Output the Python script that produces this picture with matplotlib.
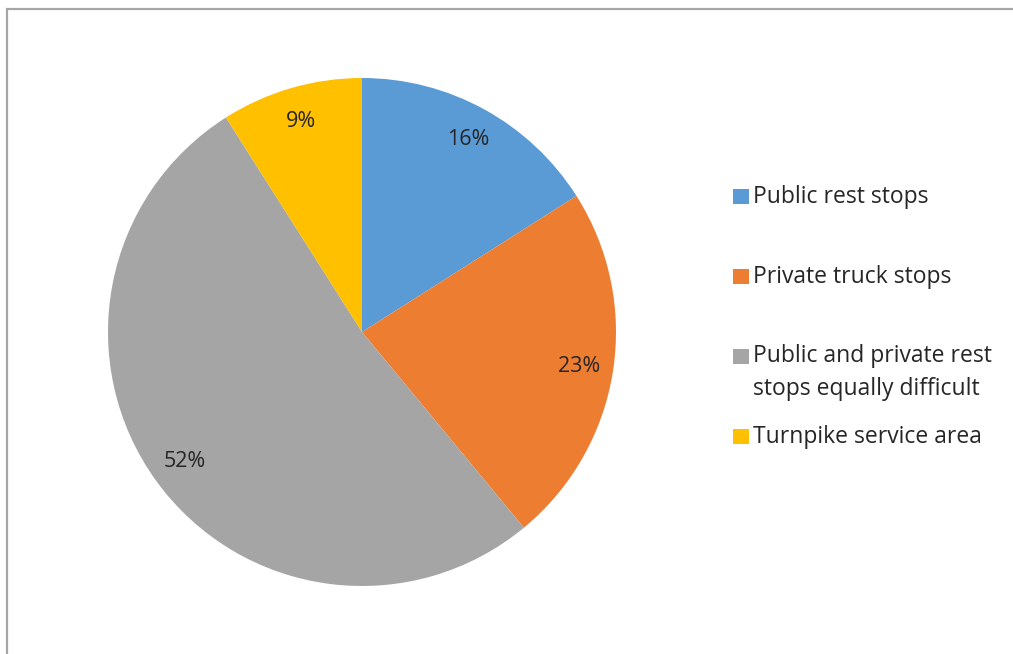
import matplotlib
matplotlib.use("Agg")
import matplotlib.pyplot as plt
from matplotlib.patches import Rectangle

categories = ["Public rest stops", "Private truck stops",
              "Public and private rest\nstops equally difficult",
              "Turnpike service area"]
shares = [16, 23, 52, 9]
colors = ["#5B9BD5", "#ED7D31", "#A5A5A5", "#FFC000"]

W, H = 1013, 654
fig = plt.figure(figsize=(W / 100, H / 100), dpi=100)
plt.rcParams["font.family"] = ["Open Sans", "DejaVu Sans"]

# frame around the chart area (runs off the right and bottom)
fig.patches.append(Rectangle((6.5 / W, -0.1), 1.2, (H - 8.5) / H + 0.1,
                             transform=fig.transFigure, fill=False,
                             edgecolor="#a6a6a6", linewidth=1.6))

cx, cy, r = 362, 332, 254
ax = fig.add_axes([(cx - r) / W, (H - cy - r) / H, 2 * r / W, 2 * r / H])
ax.pie(shares, colors=colors, startangle=90, counterclock=False,
       labels=[f"{s}%" for s in shares], labeldistance=0.865,
       textprops=dict(color="#262626", fontsize=15.5, ha="center", va="center"),
       wedgeprops=dict(linewidth=0))
for t in ax.texts:
    t.set_horizontalalignment("center")
ax.set_xlim(-1, 1)
ax.set_ylim(-1, 1)
ax.axis("off")

# legend drawn by hand to keep the uneven spacing of the original
legend_y = [197, 277, 357, 437]
for name, col, y in zip(categories, colors, legend_y):
    fig.patches.append(Rectangle((733 / W, (H - y - 7) / H), 16 / W, 15 / H,
                                 transform=fig.transFigure, facecolor=col,
                                 edgecolor="none"))
    if "\n" in name:
        fig.text(753 / W, (H - y + 13) / H, name, fontsize=16.5,
                 color="#262626", va="top", ha="left", linespacing=1.5)
    else:
        fig.text(753 / W, (H - y) / H, name, fontsize=16.5,
                 color="#262626", va="center", ha="left")

fig.savefig("out.png", dpi=100)
